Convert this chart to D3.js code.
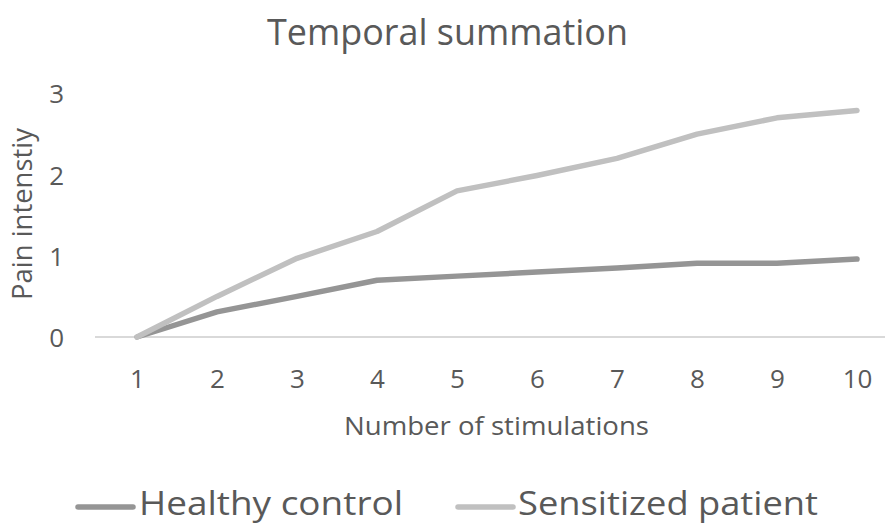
<!DOCTYPE html>
<html>
<head>
<meta charset="utf-8">
<script src="https://cdn.jsdelivr.net/npm/d3@7"></script>
<style>
  html, body { margin: 0; padding: 0; background: #ffffff; }
  svg { display: block; font-family: "Open Sans", "Noto Sans", sans-serif; }
</style>
</head>
<body>
<svg id="chart" width="885" height="526"></svg>
<script>
const categories = ["1","2","3","4","5","6","7","8","9","10"];
const healthyControl = [0, 0.31, 0.5, 0.7, 0.75, 0.8, 0.85, 0.91, 0.91, 0.96];
const sensitizedPatient = [0, 0.5, 0.97, 1.3, 1.8, 1.99, 2.2, 2.5, 2.7, 2.79];
const yTicks = [0, 1, 2, 3];
const seriesNames = ["Healthy control", "Sensitized patient"];
const seriesColors = ["#959595", "#c0c0c0"];

const svg = d3.select("#chart");
const textColor = "#595959";

const x = d3.scalePoint().domain(categories).range([137, 857]);
const y = d3.scaleLinear().domain([0, 3]).range([337, 93.5]);

// Title
svg.append("text")
  .attr("x", 447.5).attr("y", 45)
  .attr("text-anchor", "middle")
  .attr("font-size", 37)
  .attr("fill", textColor)
  .attr("textLength", 361).attr("lengthAdjust", "spacingAndGlyphs")
  .text("Temporal summation");

// Horizontal axis line at 0
svg.append("line")
  .attr("x1", 95).attr("x2", 885)
  .attr("y1", y(0)).attr("y2", y(0))
  .attr("stroke", "#d9d9d9").attr("stroke-width", 2);

// Y axis
const yAxis = svg.append("g")
  .attr("transform", "translate(64,0)")
  .call(d3.axisLeft(y).tickValues(yTicks).tickSize(0).tickPadding(0).tickFormat(d3.format("d")));
yAxis.select(".domain").remove();
yAxis.selectAll("text")
  .attr("font-family", "\"Open Sans\", sans-serif")
  .attr("font-size", 26)
  .attr("fill", textColor)
  .attr("dy", "0.36em");

// X axis
const xAxis = svg.append("g")
  .attr("transform", "translate(0,388)")
  .call(d3.axisBottom(x).tickSize(0).tickPadding(0));
xAxis.select(".domain").remove();
xAxis.selectAll("text")
  .attr("font-family", "\"Open Sans\", sans-serif")
  .attr("font-size", 26)
  .attr("fill", textColor)
  .attr("dy", 0);

// Axis titles
svg.append("text")
  .attr("x", 496.5).attr("y", 435)
  .attr("text-anchor", "middle")
  .attr("font-size", 25)
  .attr("fill", textColor)
  .attr("textLength", 305).attr("lengthAdjust", "spacingAndGlyphs")
  .text("Number of stimulations");

svg.append("text")
  .attr("transform", "translate(32,214) rotate(-90)")
  .attr("text-anchor", "middle")
  .attr("font-size", 27)
  .attr("fill", textColor)
  .attr("textLength", 172).attr("lengthAdjust", "spacingAndGlyphs")
  .text("Pain intenstiy");

// Lines
const line = d3.line()
  .x((d, i) => x(categories[i]))
  .y(d => y(d));

[healthyControl, sensitizedPatient].forEach((vals, k) => {
  svg.append("path")
    .datum(vals)
    .attr("d", line)
    .attr("fill", "none")
    .attr("stroke", seriesColors[k])
    .attr("stroke-width", 5.5)
    .attr("stroke-linejoin", "round")
    .attr("stroke-linecap", "round");
});

// Legend
const legendItems = [
  { x1: 78, x2: 133, tx: 139, len: 264 },
  { x1: 458, x2: 513, tx: 518, len: 300 }
];
legendItems.forEach((it, k) => {
  svg.append("line")
    .attr("x1", it.x1).attr("x2", it.x2)
    .attr("y1", 507).attr("y2", 507)
    .attr("stroke", seriesColors[k])
    .attr("stroke-width", 5.5)
    .attr("stroke-linecap", "round");
  svg.append("text")
    .attr("x", it.tx).attr("y", 515)
    .attr("font-size", 32)
    .attr("fill", textColor)
    .attr("textLength", it.len).attr("lengthAdjust", "spacingAndGlyphs")
    .text(seriesNames[k]);
});
</script>
</body>
</html>
